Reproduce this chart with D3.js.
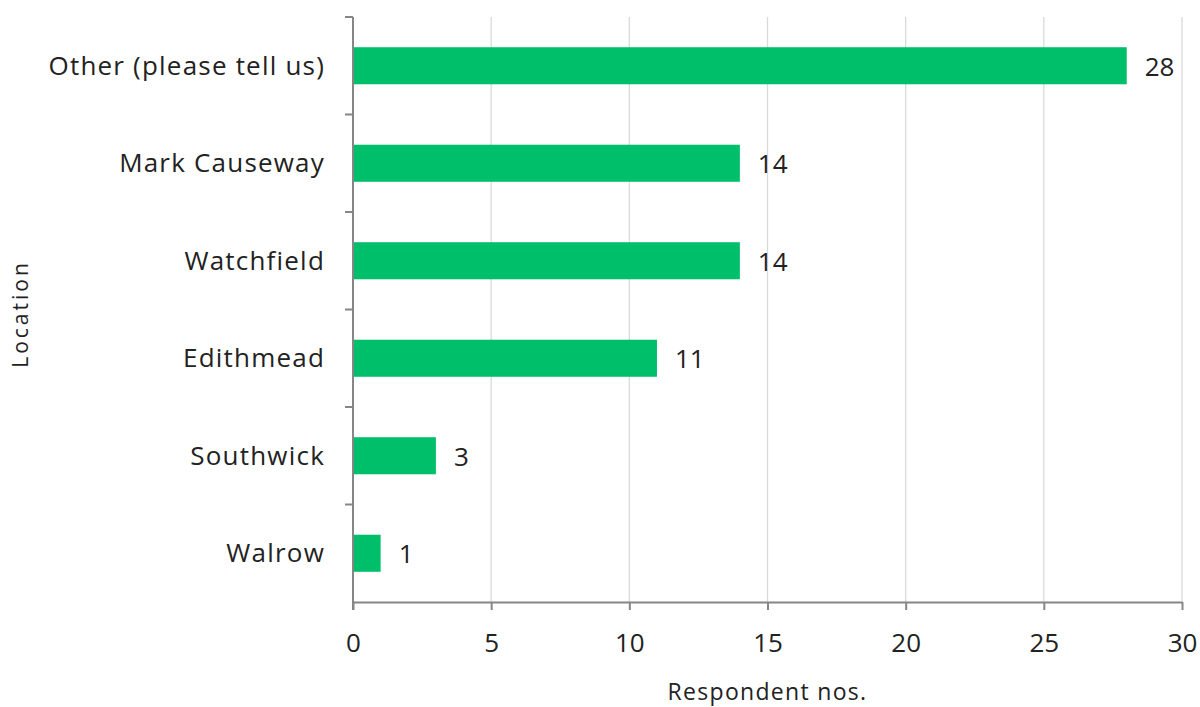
<!DOCTYPE html>
<html><head><meta charset="utf-8">
<script src="https://cdn.jsdelivr.net/npm/d3@7"></script>
<style>body{margin:0;background:#fff}</style>
</head><body><svg id="c" width="1200" height="707"></svg>
<script>
const categories = ["Other (please tell us)","Mark Causeway","Watchfield","Edithmead","Southwick","Walrow"];
const values = [28,14,14,11,3,1];
const xTicks = [0,5,10,15,20,25,30];
const xTitle = "Respondent nos.";
const yTitle = "Location";

(function(){
const svg = d3.select("#c");
const font = "'Open Sans', sans-serif";
const mL = 353, mR = 1182, mT = 17, mB = 602;
const x = d3.scaleLinear().domain([0,30]).range([mL,mR]);
const y = d3.scaleBand().domain(categories).range([mT,mB]).paddingInner(0.62).paddingOuter(0.31);

// gridlines
svg.append("g").selectAll("line").data(xTicks.filter(d=>d>0)).join("line")
  .attr("x1",d=>x(d)).attr("x2",d=>x(d)).attr("y1",mT).attr("y2",mB)
  .attr("stroke","#dadada").attr("stroke-width",1.3);

// bars
svg.append("g").selectAll("rect").data(values).join("rect")
  .attr("x",x(0)).attr("y",(d,i)=>y(categories[i]))
  .attr("width",d=>x(d)-x(0)).attr("height",y.bandwidth())
  .attr("fill","#00bf6b");

// value labels
svg.append("g").selectAll("text").data(values).join("text")
  .attr("x",d=>x(d)+18).attr("y",(d,i)=>y(categories[i])+y.bandwidth()/2+1)
  .attr("dy","0.35em").attr("font-family",font).attr("font-size",26).attr("fill","#222")
  .text(d=>d);

// x axis
const xa = svg.append("g").attr("transform",`translate(0,${mB})`)
  .call(d3.axisBottom(x).tickValues(xTicks).tickSize(8).tickPadding(24).tickSizeOuter(0));
xa.select(".domain").attr("stroke","#868686").attr("stroke-width",2);
xa.selectAll(".tick line").attr("stroke","#868686").attr("stroke-width",2);
xa.selectAll("text").attr("font-family",font).attr("font-size",26).attr("fill","#222");

// y axis
const yEdges = d3.range(categories.length+1).map(i=>mT+i*(mB-mT)/categories.length);
svg.append("line").attr("x1",mL).attr("x2",mL).attr("y1",mT).attr("y2",mB+8)
  .attr("stroke","#868686").attr("stroke-width",2);
svg.append("g").selectAll("line").data(yEdges.slice(0,-1)).join("line")
  .attr("x1",mL-8).attr("x2",mL).attr("y1",d=>d).attr("y2",d=>d)
  .attr("stroke","#868686").attr("stroke-width",2);
svg.append("g").selectAll("text").data(categories).join("text")
  .attr("x",mL-28).attr("y",d=>y(d)+y.bandwidth()/2).attr("dy","0.35em")
  .attr("text-anchor","end").attr("font-family",font).attr("font-size",26)
  .attr("letter-spacing","1.2px").attr("fill","#222")
  .text(d=>d);

// titles
svg.append("text").attr("x",(mL+mR)/2).attr("y",700).attr("text-anchor","middle")
  .attr("font-family",font).attr("font-size",23).attr("letter-spacing","1.3px").attr("fill","#222").text(xTitle);
svg.append("text").attr("transform",`translate(28,314) rotate(-90)`)
  .attr("text-anchor","middle").attr("font-family",font).attr("font-size",21)
  .attr("letter-spacing","3px").attr("fill","#222").text(yTitle);
})();
</script></body></html>
